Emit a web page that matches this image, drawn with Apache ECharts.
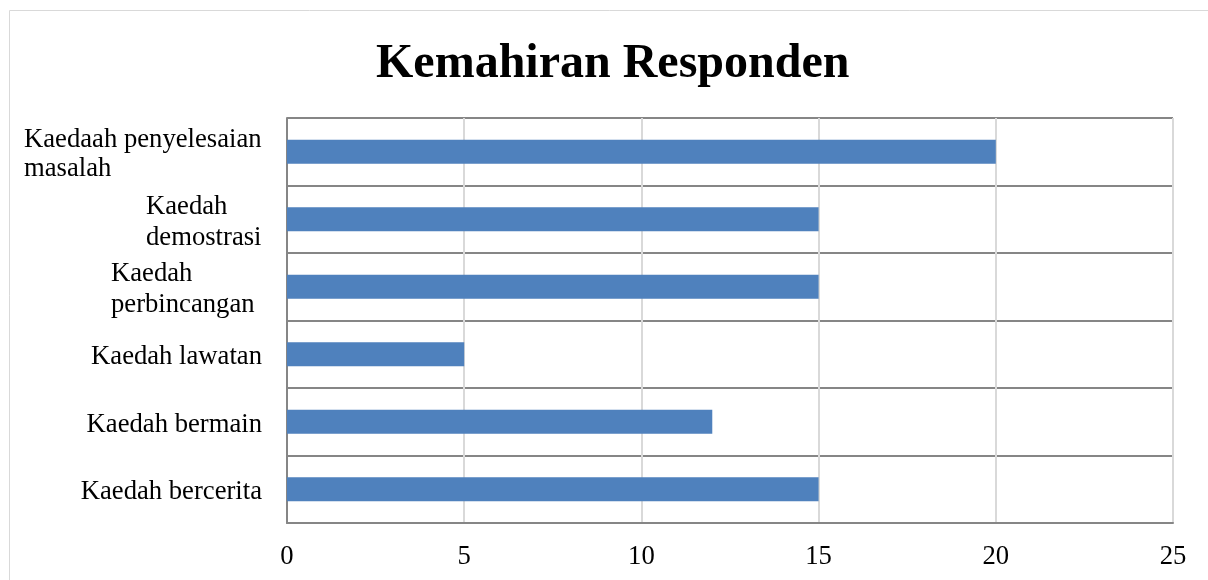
<!DOCTYPE html>
<html>
<head>
<meta charset="utf-8">
<script src="https://cdn.jsdelivr.net/npm/echarts@6/dist/echarts.min.js"></script>
<style>
  html, body { margin: 0; padding: 0; background: #fff; }
  #main { width: 1208px; height: 580px; }
</style>
</head>
<body>
<div id="main"></div>
<script>
// data, bottom to top as the category axis draws them
const categories = ['Kaedah bercerita', 'Kaedah bermain', 'Kaedah lawatan', 'Kaedah\nperbincangan', 'Kaedah\ndemostrasi', 'Kaedaah penyelesaian\nmasalah'];
const values = [15, 12, 5, 15, 15, 20];
const xTicks = [0, 5, 10, 15, 20, 25];

const chart = echarts.init(document.getElementById('main'));

// wrapped labels are left aligned inside their own block
const blockWidth = { 'Kaedah\nperbincangan': 151, 'Kaedah\ndemostrasi': 116, 'Kaedaah penyelesaian\nmasalah': 238 };
const labelFont = 'Liberation Serif';
const fs = 26.67;

chart.setOption({
  animation: false,
  title: {
    text: 'Kemahiran Responden',
    left: 371,
    top: 36,
    textStyle: { fontFamily: labelFont, fontSize: 48, fontWeight: 'bold', color: '#000' }
  },
  graphic: [{
    type: 'rect',
    shape: { x: 9.5, y: 10.5, width: 1400, height: 800 },
    style: { fill: 'none', stroke: '#d9d9d9', lineWidth: 1 },
    silent: true
  }],
  grid: { left: 287, right: 35, top: 118, bottom: 57 },
  xAxis: {
    type: 'value',
    min: xTicks[0],
    max: xTicks[xTicks.length - 1],
    interval: 5,
    axisLine: { show: true, lineStyle: { color: '#868686', width: 2 } },
    axisTick: { show: false },
    axisLabel: { margin: 20, color: '#000', fontFamily: labelFont, fontSize: fs },
    splitLine: { show: true, lineStyle: { color: '#d9d9d9', width: 2 } }
  },
  yAxis: {
    type: 'category',
    data: categories,
    axisLine: { show: true, lineStyle: { color: '#868686', width: 2 } },
    axisTick: { show: false },
    splitLine: { show: true, lineStyle: { color: '#868686', width: 2 } },
    axisLabel: {
      margin: 25,
      color: '#000',
      fontFamily: labelFont,
      fontSize: fs,
      lineHeight: 31,
      padding: [6, 0, 0, 0],
      formatter: function (v) {
        if (!blockWidth[v]) return v;
        return v.split('\n').map(function (s) { return '{w' + blockWidth[v] + '|' + s + '}'; }).join('\n');
      },
      rich: {
        w238: { width: 238, align: 'left', fontFamily: labelFont, fontSize: fs, lineHeight: 29, color: '#000' },
        w116: { width: 116, align: 'left', fontFamily: labelFont, fontSize: fs, lineHeight: 31, color: '#000' },
        w151: { width: 151, align: 'left', fontFamily: labelFont, fontSize: fs, lineHeight: 31, color: '#000' }
      }
    }
  },
  series: [{
    type: 'bar',
    data: values,
    barWidth: 24,
    itemStyle: { color: '#4f81bd' }
  }]
});
</script>
</body>
</html>
